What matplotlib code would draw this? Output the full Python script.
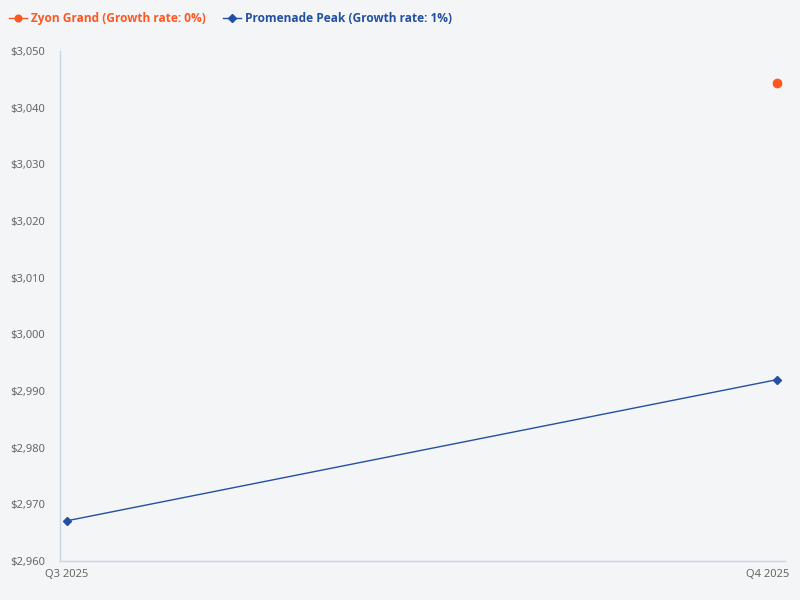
import matplotlib
matplotlib.use("Agg")
import matplotlib.pyplot as plt
import matplotlib.transforms as mtransforms
from matplotlib import font_manager
import numpy as np

plt.rcParams['font.family'] = ['Noto Sans', 'DejaVu Sans']

categories = ["Q3 2025", "Q4 2025"]
zyon_grand = [np.nan, 3044.3]
promenade_peak = [2967.1, 2992.0]
series_names = ["Zyon Grand (Growth rate: 0%)", "Promenade Peak (Growth rate: 1%)"]
y_ticks = [2960, 2970, 2980, 2990, 3000, 3010, 3020, 3030, 3040, 3050]

orange = "#ff5722"
blue = "#2350a0"
bg = "#f3f5f7"

fig = plt.figure(figsize=(8, 6), dpi=100, facecolor=bg)
ax = fig.add_axes([0.075, 0.065, 0.90625, 0.85])
ax.set_facecolor(bg)

x = np.arange(len(categories))
l1, = ax.plot(x, zyon_grand, color=orange, marker='o', markersize=6, linewidth=1, label=series_names[0])
l2, = ax.plot(x, promenade_peak, color=blue, marker='D', markersize=4.5, linewidth=1, label=series_names[1])

ax.set_xlim(-0.00986, 1.0113)
ax.set_ylim(2960, 3050)
ax.set_xticks(x)
ax.set_xticklabels(categories)
ax.set_yticks(y_ticks)
ax.set_yticklabels([f"${v:,}" for v in y_ticks])
ax.tick_params(axis='both', length=0, labelsize=8, colors="#666666")
ax.tick_params(axis='y', pad=11)
ax.tick_params(axis='x', pad=6)

lab = ax.get_xticklabels()[-1]
lab.set_transform(lab.get_transform() + mtransforms.ScaledTranslation(-9/100, 0, fig.dpi_scale_trans))

for s in ['top', 'right']:
    ax.spines[s].set_visible(False)
for s in ['left', 'bottom']:
    ax.spines[s].set_color("#c9d5e6")
    ax.spines[s].set_linewidth(1)

legend_font = font_manager.FontProperties(family=['Open Sans', 'DejaVu Sans'], weight='bold', size=8.6)
leg = fig.legend(handles=[l1, l2], loc='upper left', bbox_to_anchor=(-0.002, 0.998), ncol=2,
                 frameon=False, handlelength=1.5, handletextpad=0.35, markerscale=0.8,
                 columnspacing=1.4, prop=legend_font)
for t, c in zip(leg.get_texts(), [orange, blue]):
    t.set_color(c)

fig.savefig("out.png", dpi=100, facecolor=bg)
